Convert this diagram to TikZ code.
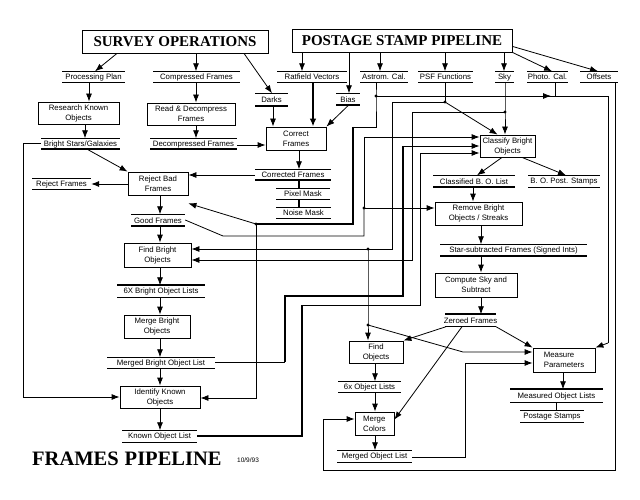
\documentclass[tikz,border=0pt]{standalone}
\usepackage{fontspec}
\setmainfont{Liberation Sans}
\newfontfamily\serifttl{Liberation Serif}
\usetikzlibrary{arrows.meta}
\tikzset{
  ln/.style={line width=0.8pt},
  thk/.style={line width=2.4pt},
  arr/.style={line width=0.8pt,-{Latex[length=8pt,width=6pt]}},
  tarr/.style={line width=2.4pt,-{Latex[length=8pt,width=6.5pt]}},
  proc/.style={draw,line width=0.8pt,inner sep=1pt,align=center,font=\fontsize{7.8}{10}\selectfont},
  stxt/.style={inner sep=0pt,font=\fontsize{7.8}{9}\selectfont},
  jdot/.style={circle,fill,inner sep=0pt,minimum size=3.2pt},
  ttl/.style={draw,line width=0.8pt,inner sep=0pt,font=\serifttl\bfseries\fontsize{15}{16}\selectfont}
}
\newcommand\proc[6]{\node[proc,minimum width={(#4-#2)*1pt},minimum height={(#5-#3)*1pt}] (#1) at ({(#2+#4)/2},{(#3+#5)/2}) {#6};}
\newcommand\dstore[8]{%
  \node[stxt,minimum width={(#3-#2)*1pt},minimum height={(#5-#4)*1pt}] (#1) at ({(#2+#3)/2},{(#4+#5)/2+0.5}) {#6};
  \draw[#7] (#2,#4) -- (#3,#4);
  \draw[#8] (#2,#5) -- (#3,#5);}
\begin{document}
\begin{tikzpicture}[x=1pt,y=-1pt]
\useasboundingbox[fill=white] (0,0) rectangle (640,500);

% titles
\node[ttl,minimum width=186pt,minimum height=23pt] (so) at (175,41.5) {SURVEY OPERATIONS};
\node[ttl,minimum width=220pt,minimum height=23pt] (pss) at (402,40.5) {POSTAGE STAMP PIPELINE};
\node[inner sep=0pt,anchor=west,font=\serifttl\bfseries\fontsize{20.5}{22}\selectfont] (fp) at (32,459) {FRAMES\hspace{6pt}PIPELINE};
\node[inner sep=0pt,anchor=west,font=\fontsize{6.5}{7}\selectfont] (date) at (237,460) {10/9/93};

% processes
\proc{rk}{38}{102}{119}{124}{Research Known\\Objects}
\proc{rd}{147}{103}{235}{125}{Read \& Decompress\\Frames}
\proc{cf}{266}{127}{326}{150}{Correct\\Frames}
\proc{cb}{480}{135}{535}{157}{Classify Bright\\Objects}
\proc{rb}{128}{172}{188}{195}{Reject Bad\\Frames}
\proc{fb}{124}{243}{191}{267}{Find Bright\\Objects}
\proc{ro}{435}{202}{522}{225}{Remove Bright\\Objects / Streaks}
\proc{cs}{435}{273}{517}{297}{Compute Sky and\\Subtract}
\proc{mb}{124}{315}{190}{338}{Merge Bright\\Objects}
\proc{ik}{120}{386}{200}{408}{Identify Known\\Objects}
\proc{fo}{349}{341}{403}{363}{Find\\Objects}
\node[proc,align=left,minimum width=39pt,minimum height=23pt] (mc) at (374.5,423.5) {Merge\\Colors};
\node[proc,align=left,minimum width=62pt,minimum height=24pt] (mp) at (564,360) {Measure\\Parameters};

% data stores
\dstore{pp}{62}{125}{71}{82}{Processing Plan}{ln}{ln}
\dstore{cfr}{153}{240}{71}{82}{Compressed Frames}{ln}{ln}
\dstore{rv}{277}{347}{71}{82}{Ratfield Vectors}{ln}{ln}
\dstore{dk}{255}{288}{93}{106}{Darks}{ln}{thk}
\dstore{bi}{336}{360}{93}{105}{Bias}{ln}{thk}
\dstore{ac}{360}{408}{71}{82}{Astrom. Cal.}{ln}{ln}
\dstore{psf}{418}{473}{71}{82}{PSF Functions}{ln}{ln}
\dstore{sky}{495}{514}{71}{82}{Sky}{ln}{ln}
\dstore{pc}{527}{568}{71}{82}{Photo. Cal.}{ln}{ln}
\dstore{off}{580}{618}{71}{82}{Offsets}{ln}{ln}
\dstore{bsg}{41}{120}{138}{149}{Bright Stars/Galaxies}{ln}{thk}
\dstore{dfr}{150}{237}{138}{149}{Decompressed Frames}{ln}{thk}
\dstore{cor}{255}{331}{169}{180}{Corrected Frames}{ln}{thk}
\dstore{pm}{276}{330}{188}{199}{Pixel Mask}{ln}{ln}
\dstore{nm}{276}{331}{207}{218}{Noise Mask}{ln}{ln}
\dstore{rf}{32}{91}{178}{189}{Reject Frames}{ln}{ln}
\dstore{gf}{131}{185}{214}{226}{Good Frames}{ln}{thk}
\dstore{bol}{117}{205}{285}{297}{6X Bright Object Lists}{thk}{ln}
\dstore{mbl}{107}{215}{357}{368}{Merged Bright Object List}{ln}{ln}
\dstore{kol}{122}{197}{430}{442}{Known Object List}{ln}{ln}
\dstore{cbl}{433}{515}{175}{187}{Classified B. O. List}{ln}{thk}
\dstore{bps}{528}{600}{175}{187}{B. O. Post. Stamps}{ln}{ln}
\dstore{ssf}{440}{587}{244}{256}{Star-subtracted Frames (Signed Ints)}{ln}{thk}
\dstore{zf}{445}{496}{314}{326}{Zeroed Frames}{thk}{ln}
\dstore{ol}{338}{401}{381}{392}{6x Object Lists}{ln}{ln}
\dstore{mol}{337}{412}{450}{462}{Merged Object List}{ln}{ln}
\dstore{mol2}{510}{603}{389}{402}{Measured Object Lists}{thk}{ln}
\dstore{ps}{520}{584}{410}{422}{Postage Stamps}{ln}{ln}

% junction points
\coordinate (jac) at (376,96);
\coordinate (jastro) at (256,224);
\coordinate (jpsf) at (445,102);
\coordinate (jsky) at (505,112);
\coordinate (jgf) at (364,208);
\coordinate (jpsf2) at (368,249);
\coordinate (jpsf3) at (368,325);

% from title boxes
\draw[arr] (so.south -| 117,0) -- (pp.north -| 95,0);
\draw[arr] (so.south -| 196,0) -- (cfr.north -| 196,0);
\draw[arr] (so.south -| 244,0) -- (dk.north -| 272,0);
\draw[arr] (pss.south -| 302,0) -- (rv.north -| 302,0);
\draw[arr] (pss.south -| 349,0) -- (bi.north -| 349,0);
\draw[arr] (pss.south -| 380,0) -- (ac.north -| 380,0);
\draw[arr] (pss.south -| 445,0) -- (psf.north -| 445,0);
\draw[arr] (pss.south -| 504,0) -- (sky.north -| 504,0);
\draw[arr] (pss.south east) -- (pc.north -| 552,0);
\draw[arr] ([yshift=6pt]pss.south east) -- (off.north -| 598,0);

% left column
\draw[arr] (pp.south -| 89,0) -- (rk.north -| 89,0);
\draw[arr] (cfr.south -| 196,0) -- (rd.north -| 196,0);
\draw[arr] (rd.south -| 196,0) -- (dfr.north -| 196,0);
\draw[arr] (rk.south -| 85,0) -- (bsg.north -| 85,0);
\draw[arr] (dfr.east |- 0,145) -- (cf.west |- 0,145);
\draw[arr] (dk.south -| 273,0) -- (cf.north -| 273,0);
\draw[tarr] (rv.south -| 313,0) -- (cf.north -| 313,0);
\draw[arr] (bi.south -| 348,0) -- (cf.north east);
\draw[arr] (cf.south -| 299,0) -- (cor.north -| 299,0);
\draw[thk] (cor.south -| 299,0) -- (pm.north -| 299,0);
\draw[thk] (pm.south -| 299,0) -- (nm.north -| 299,0);
\draw[arr] (cor.west |- 0,175) -- (rb.east |- 0,175);
\draw[arr] (bsg.south -| 88,0) -- (rb.north west);
\draw[arr] (rb.west |- 0,184) -- (rf.east |- 0,184);
\draw[arr] (rb.south -| 160,0) -- (gf.north -| 160,0);
\draw[arr] (gf.south -| 160,0) -- (fb.north -| 160,0);
\draw[arr] (fb.south -| 160,0) -- (bol.north -| 160,0);
\draw[arr] (bol.south -| 160,0) -- (mb.north -| 160,0);
\draw[arr] (mb.south -| 160,0) -- (mbl.north -| 160,0);
\draw[arr] (mbl.south -| 160,0) -- (ik.north -| 160,0);
\draw[arr] (ik.south -| 160,0) -- (kol.north -| 160,0);
\draw[arr] (bsg.west |- 0,143) -- (23,143) -- (23,397) -- (ik.west |- 0,397);

% Astrom. Cal.
\draw[ln] (ac.south -| jac) -- (jac) -- (376,127) -- (353,127);
\draw[thk] (353,127) -- (353,224) -- (jastro);
\draw[arr] (jastro) -- ([yshift=-8pt]rb.south east);
\draw[arr] (jastro) -- (256,398) -- (ik.east |- 0,398);
\draw[arr] (jac) -- (551,96);
\draw[ln] (545,96) -- (608,96) -- (608,343);
\draw[arr] (608,343) -- (mp.north east);
\draw[ln] (pc.south -| 555,0) -- (555,96);
\node[jdot] at (jac) {};
\node[jdot] at (jastro) {};

% Offsets
\draw[arr] (off.south -| 615,0) -- (615,470) -- (323,470) -- (323,419) -- (mc.west |- 0,419);

% PSF
\draw[ln] (psf.south -| jpsf) -- (jpsf);
\draw[arr] (jpsf) -- ([xshift=18pt]cb.north west);
\draw[arr] (jpsf) -- (392,102) -- (392,249) -- (fb.east |- 0,249);
\draw[arr] (jpsf2) -- (jpsf3) -- (fo.north -| jpsf3);
\draw[arr] (jpsf3) -- (463,352) -- (mp.west |- 0,352);
\node[jdot] at (jpsf) {};
\node[jdot] at (jpsf2) {};
\node[jdot] at (jpsf3) {};

% Sky
\draw[arr] (sky.south -| jsky) -- (jsky) -- (cb.north -| jsky);
\draw[arr] (jsky) -- (412,112) -- (412,260) -- (fb.east |- 0,260);
\node[jdot] at (jsky) {};

% Good Frames
\draw[ln] (gf.east |- 0,220) -- (223,236) -- (364,236) -- (jgf);
\draw[arr] (jgf) -- (ro.west |- jgf);
\draw[arr] (jgf) -- (364,137) -- (cb.west |- 0,137);
\node[jdot] at (jgf) {};

% Merged Bright Object List
\draw[ln] (mbl.east |- 0,362) -- (285,362);
\draw[thk] (285,362) -- (285,296) -- (403,296) -- (403,146);
\draw[arr] (403,146) -- (cb.west |- 0,146);

% Known Object List
\draw[thk] (kol.east |- 0,436) -- (302,436) -- (302,305);
\draw[arr] (302,305) -- (420,305) -- (420,153) -- (cb.west |- 0,153);

% right column
\draw[arr] (cb.south -| 502,0) -- (cbl.north -| 477,0);
\draw[arr] (cb.south -| 522,0) -- (bps.north -| 566,0);
\draw[arr] (cbl.south -| 473,0) -- (ro.north -| 473,0);
\draw[arr] (ro.south -| 481,0) -- (ssf.north -| 481,0);
\draw[arr] (ssf.south -| 481,0) -- (cs.north -| 481,0);
\draw[arr] (cs.south -| 481,0) -- (zf.north -| 481,0);
\draw[arr] (zf.south -| 446,0) -- (fo.north east);
\draw[arr] (zf.south -| 462,0) -- ([yshift=-8pt]mc.north east);
\draw[arr] (zf.south -| 496,0) -- (mp.north west);
\draw[arr] (fo.south -| 375,0) -- (ol.north -| 375,0);
\draw[arr] (ol.south -| 375,0) -- (mc.north -| 375,0);
\draw[arr] (mc.south -| 375,0) -- (mol.north -| 375,0);
\draw[arr] (mol.east |- 0,457) -- (465,457) -- (465,363) -- (mp.west |- 0,363);
\draw[arr] (mp.south -| 563,0) -- (mol2.north -| 563,0);
\draw[ln] (mol2.south -| 556,0) -- (ps.north -| 556,0);
\end{tikzpicture}
\end{document}
